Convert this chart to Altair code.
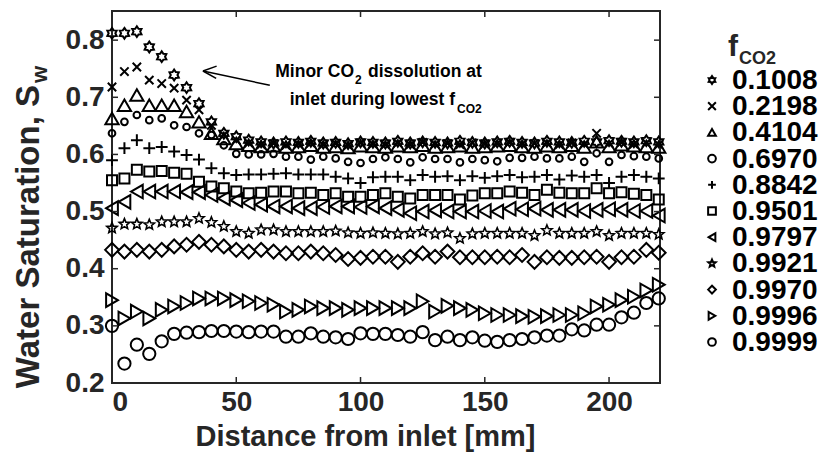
import math
import altair as alt
import pandas as pd

# ---------------- data ----------------
distance = list(range(0, 221, 5))  # mm

series_labels = ["0.1008", "0.2198", "0.4104", "0.6970", "0.8842", "0.9501",
                 "0.9797", "0.9921", "0.9970", "0.9996", "0.9999"]

s_0_1008 = [0.812, 0.812, 0.815, 0.788, 0.771, 0.739, 0.717, 0.689, 0.657, 0.637, 0.631, 0.625,
            0.622, 0.620, 0.622, 0.621, 0.623, 0.620, 0.621, 0.619, 0.622, 0.621, 0.620, 0.623,
            0.620, 0.622, 0.621, 0.620, 0.623, 0.621, 0.620, 0.622, 0.623, 0.621, 0.620, 0.623,
            0.622, 0.621, 0.623, 0.622, 0.624, 0.623, 0.622, 0.624, 0.622]
s_0_2198 = [0.718, 0.745, 0.753, 0.730, 0.724, 0.716, 0.695, 0.678, 0.651, 0.634, 0.625, 0.620,
            0.617, 0.619, 0.616, 0.618, 0.620, 0.617, 0.619, 0.616, 0.620, 0.618, 0.617, 0.620,
            0.617, 0.621, 0.618, 0.619, 0.617, 0.620, 0.618, 0.619, 0.621, 0.618, 0.619, 0.620,
            0.617, 0.620, 0.618, 0.637, 0.619, 0.621, 0.618, 0.620, 0.617]
s_0_4104 = [0.663, 0.686, 0.704, 0.686, 0.686, 0.686, 0.675, 0.657, 0.637, 0.628, 0.619, 0.616,
            0.614, 0.615, 0.613, 0.614, 0.616, 0.613, 0.614, 0.612, 0.615, 0.614, 0.613, 0.615,
            0.614, 0.616, 0.613, 0.614, 0.615, 0.613, 0.614, 0.615, 0.616, 0.614, 0.613, 0.615,
            0.614, 0.616, 0.613, 0.622, 0.614, 0.617, 0.615, 0.614, 0.613]
s_0_6970 = [0.637, 0.657, 0.669, 0.660, 0.663, 0.651, 0.648, 0.637, 0.634, 0.616, 0.601, 0.600,
            0.600, 0.601, 0.596, 0.596, 0.591, 0.596, 0.593, 0.587, 0.585, 0.592, 0.595, 0.592,
            0.586, 0.595, 0.592, 0.592, 0.586, 0.592, 0.590, 0.588, 0.594, 0.594, 0.596, 0.593,
            0.593, 0.596, 0.587, 0.602, 0.587, 0.599, 0.597, 0.596, 0.593]
s_0_8842 = [0.590, 0.611, 0.625, 0.611, 0.613, 0.605, 0.599, 0.591, 0.576, 0.567, 0.564, 0.565,
            0.565, 0.566, 0.567, 0.565, 0.565, 0.565, 0.561, 0.558, 0.550, 0.560, 0.561, 0.561,
            0.555, 0.564, 0.561, 0.562, 0.555, 0.562, 0.559, 0.562, 0.564, 0.560, 0.561, 0.564,
            0.556, 0.563, 0.561, 0.564, 0.550, 0.561, 0.564, 0.561, 0.558]
s_0_9501 = [0.555, 0.558, 0.573, 0.570, 0.571, 0.568, 0.566, 0.552, 0.544, 0.541, 0.535, 0.532,
            0.533, 0.535, 0.535, 0.532, 0.533, 0.529, 0.532, 0.526, 0.526, 0.529, 0.532, 0.526,
            0.523, 0.529, 0.529, 0.529, 0.521, 0.528, 0.532, 0.532, 0.535, 0.533, 0.529, 0.538,
            0.533, 0.532, 0.532, 0.541, 0.532, 0.534, 0.531, 0.529, 0.521]
s_0_9797 = [0.506, 0.517, 0.535, 0.535, 0.535, 0.535, 0.534, 0.534, 0.529, 0.523, 0.520, 0.515,
            0.512, 0.509, 0.509, 0.506, 0.506, 0.508, 0.509, 0.509, 0.508, 0.509, 0.506, 0.503,
            0.497, 0.500, 0.502, 0.500, 0.500, 0.500, 0.501, 0.500, 0.505, 0.504, 0.505, 0.503,
            0.503, 0.503, 0.501, 0.503, 0.504, 0.503, 0.501, 0.501, 0.493]
s_0_9921 = [0.471, 0.478, 0.478, 0.477, 0.482, 0.482, 0.482, 0.488, 0.481, 0.474, 0.465, 0.462,
            0.468, 0.468, 0.465, 0.465, 0.465, 0.465, 0.466, 0.463, 0.462, 0.463, 0.462, 0.461,
            0.462, 0.465, 0.461, 0.463, 0.453, 0.461, 0.462, 0.462, 0.462, 0.462, 0.458, 0.467,
            0.462, 0.462, 0.462, 0.465, 0.458, 0.462, 0.462, 0.462, 0.460]
s_0_9970 = [0.433, 0.430, 0.433, 0.430, 0.433, 0.439, 0.442, 0.447, 0.442, 0.439, 0.433, 0.430,
            0.433, 0.430, 0.427, 0.427, 0.430, 0.427, 0.424, 0.417, 0.419, 0.421, 0.421, 0.412,
            0.421, 0.427, 0.421, 0.430, 0.420, 0.420, 0.420, 0.421, 0.420, 0.424, 0.412, 0.420,
            0.419, 0.419, 0.420, 0.421, 0.412, 0.420, 0.421, 0.433, 0.428]
s_0_9996 = [0.345, 0.313, 0.325, 0.313, 0.328, 0.334, 0.340, 0.348, 0.348, 0.348, 0.345, 0.343,
            0.340, 0.337, 0.325, 0.328, 0.334, 0.331, 0.331, 0.328, 0.331, 0.331, 0.331, 0.331,
            0.331, 0.343, 0.325, 0.335, 0.331, 0.328, 0.322, 0.319, 0.319, 0.317, 0.316, 0.317,
            0.319, 0.319, 0.322, 0.334, 0.337, 0.345, 0.351, 0.362, 0.372]
s_0_9999 = [0.300, 0.234, 0.267, 0.251, 0.273, 0.286, 0.288, 0.289, 0.291, 0.291, 0.290, 0.289,
            0.290, 0.290, 0.281, 0.281, 0.287, 0.281, 0.280, 0.277, 0.287, 0.286, 0.286, 0.284,
            0.281, 0.289, 0.275, 0.281, 0.275, 0.280, 0.274, 0.272, 0.275, 0.277, 0.280, 0.283,
            0.283, 0.294, 0.292, 0.302, 0.302, 0.315, 0.323, 0.340, 0.348]

all_series = [s_0_1008, s_0_2198, s_0_4104, s_0_6970, s_0_8842, s_0_9501,
              s_0_9797, s_0_9921, s_0_9970, s_0_9996, s_0_9999]

x_ticks = [0, 50, 100, 150, 200]
y_ticks = [0.2, 0.3, 0.4, 0.5, 0.6, 0.7, 0.8]

# ---------------- styling ----------------
def star(n, inner):
    pts = []
    for k in range(2 * n):
        a = -math.pi / 2 + k * math.pi / n
        r = 1.0 if k % 2 == 0 else inner
        pts.append(f"{r * math.cos(a):.3f},{r * math.sin(a):.3f}")
    return "M" + "L".join(pts) + "Z"

HEXAGRAM = star(6, 0.62)
PENTAGRAM = star(5, 0.45)
XMARK = "M-1,-1L1,1M-1,1L1,-1"
PLUS = "M-1,0L1,0M0,-1L0,1"

shapes = [HEXAGRAM, XMARK, "triangle-up", "circle", PLUS, "square",
          "triangle-left", PENTAGRAM, "diamond", "triangle-right", "circle"]
sizes = [115, 70, 175, 45, 140, 100, 185, 120, 190, 185, 150]
widths = [2, 2, 2, 2, 2, 2, 2, 1.6, 2, 2, 2]

FONT = "Liberation Sans"
INK = "#262626"
W, H = 548, 372

xs = alt.Scale(domain=[0, 220.5], nice=False, zero=False)
ys = alt.Scale(domain=[0.2, 0.851], nice=False, zero=False)
shape_scale = alt.Scale(domain=series_labels, range=shapes)

x_enc = alt.X("distance:Q", scale=xs,
              axis=alt.Axis(values=x_ticks, title="Distance from inlet [mm]", format="d",
                            titleX=253))

point_layers = []
for i, (lab, vals, sz, sw) in enumerate(zip(series_labels, all_series, sizes, widths)):
    d = pd.DataFrame({"series": lab, "distance": distance, "sw": vals})
    y_axis = alt.Axis(values=y_ticks, title=None, format=".1f") if i == 0 else None
    point_layers.append(
        alt.Chart(d).mark_point(filled=False, strokeWidth=sw, color="black", opacity=1, size=sz)
        .encode(x=x_enc, y=alt.Y("sw:Q", scale=ys, axis=y_axis),
                shape=alt.Shape("series:N", scale=shape_scale, legend=None))
    )

# inward ticks (box axes)
xt = pd.DataFrame({"v": x_ticks})
yt = pd.DataFrame({"v": y_ticks})
tick_style = dict(color=INK, strokeWidth=1.5)
bt = alt.Chart(xt).mark_rule(**tick_style).encode(x=alt.X("v:Q", scale=xs), y=alt.value(H), y2=alt.value(H - 6))
tt = alt.Chart(xt).mark_rule(**tick_style).encode(x=alt.X("v:Q", scale=xs), y=alt.value(0), y2=alt.value(6))
lt = alt.Chart(yt).mark_rule(**tick_style).encode(y=alt.Y("v:Q", scale=ys, axis=None), x=alt.value(0), x2=alt.value(6))
rt = alt.Chart(yt).mark_rule(**tick_style).encode(y=alt.Y("v:Q", scale=ys, axis=None), x=alt.value(W), x2=alt.value(W - 6))

# legend (symbols + labels placed by a point scale to the right of the plot)
leg_df = pd.DataFrame({"series": series_labels})
leg_y = alt.Y("series:N", scale=alt.Scale(type="point", domain=series_labels, range=[69, 331], padding=0),
              axis=None)
leg_sym = alt.Chart(leg_df).mark_point(filled=False, strokeWidth=2, color="black", opacity=1, size=60).encode(
    x=alt.value(600), y=leg_y, shape=alt.Shape("series:N", scale=shape_scale, legend=None))
leg_lab = alt.Chart(leg_df).mark_text(font=FONT, fontWeight="bold", fontSize=28, align="left",
                                      baseline="middle", color="black", dy=1).encode(
    x=alt.value(620), y=leg_y, text="series:N")

# annotation text (pixel offsets from the plot's top-left corner)
ann_texts = ["Minor CO", "2", "dissolution at", "inlet during lowest f", "CO2"]
ann_x = [242, 243, 256, 343, 345]
ann_y = [66, 73, 66, 94, 102]
ann_align = ["right", "left", "left", "right", "left"]
ann_size = [17.5, 12, 17.5, 17.5, 12]
ann_layers = []
for t, px, py, al, fs in zip(ann_texts, ann_x, ann_y, ann_align, ann_size):
    ann_layers.append(
        alt.Chart(pd.DataFrame({"t": [t]})).mark_text(
            font=FONT, fontWeight="bold", fontSize=fs, align=al,
            baseline="alphabetic", color="black"
        ).encode(text="t:N", x=alt.value(px), y=alt.value(py))
    )

# arrow: shaft + two barbs (data coordinates)
arrow = pd.DataFrame({
    "x1": [63.5, 36.6, 36.6],
    "y1": [0.721, 0.746, 0.746],
    "x2": [36.6, 42.1, 41.9],
    "y2": [0.746, 0.7545, 0.733],
})
arrow_layer = alt.Chart(arrow).mark_rule(color="black", strokeWidth=1.5).encode(
    x=alt.X("x1:Q", scale=xs), y=alt.Y("y1:Q", scale=ys, axis=None), x2="x2:Q", y2="y2:Q")

# y-axis title and legend title, each with subscript
extra_text = [
    ("Water Saturation, S", -73, 74, 33, 270, "right"),
    ("w", -65, 72, 22, 270, "left"),
    ("f", 616, 45, 30, 0, "left"),
    ("CO2", 627, 53, 18, 0, "left"),
]
extra_layers = []
for t, px, py, fs, ang, al in extra_text:
    extra_layers.append(
        alt.Chart(pd.DataFrame({"t": [t]})).mark_text(
            font=FONT, fontWeight="bold", fontSize=fs, angle=ang, align=al,
            baseline="alphabetic", color=INK
        ).encode(text="t:N", x=alt.value(px), y=alt.value(py))
    )

chart = alt.layer(
    *point_layers, bt, tt, lt, rt, arrow_layer, leg_sym, leg_lab, *ann_layers, *extra_layers
).resolve_scale(y="independent").properties(
    width=W, height=H,
    autosize=alt.AutoSizeParams(type="none"),
    padding={"left": 112, "top": 11, "right": 164, "bottom": 70},
).configure_view(stroke=INK, strokeWidth=2).configure_axis(
    domain=False, grid=False, tickSize=0,
    labelFont=FONT, labelFontSize=28, labelFontWeight="bold", labelColor=INK,
    titleFont=FONT, titleFontSize=29, titleFontWeight="bold", titleColor=INK,
).configure_axisX(labelPadding=5, titlePadding=6).configure_axisY(labelPadding=8)

chart.save("out.html", embed_options={"renderer": "svg", "actions": False})
